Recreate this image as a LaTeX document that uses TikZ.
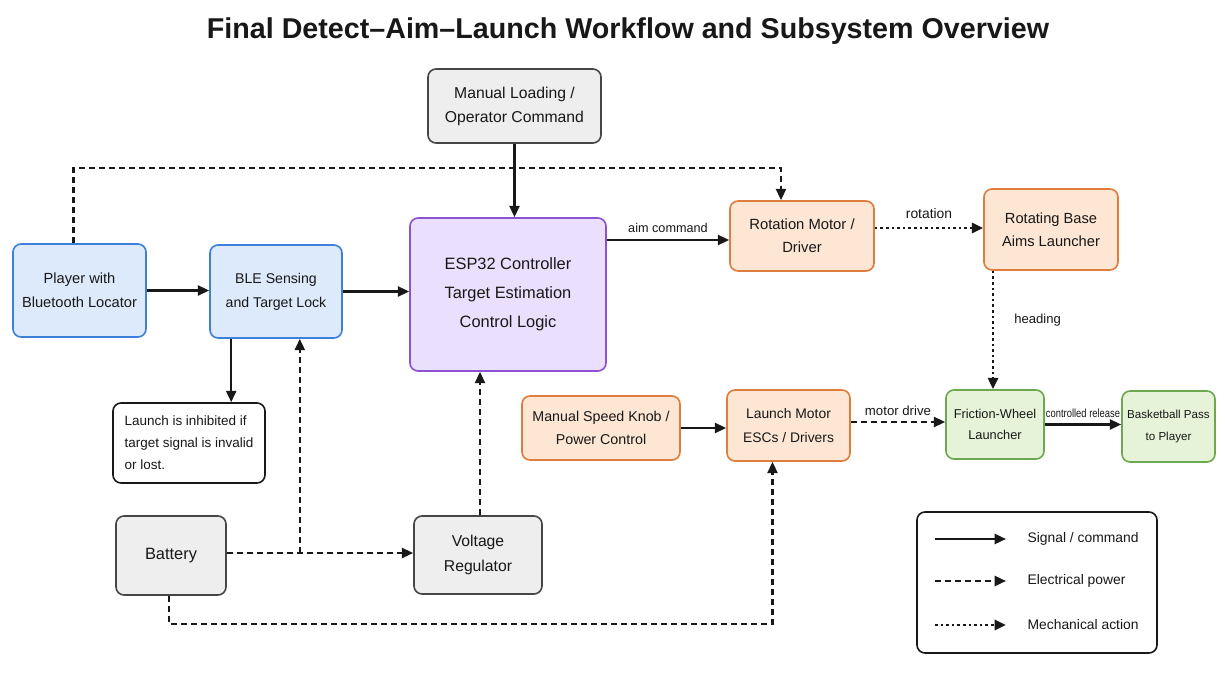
\documentclass[tikz,border=0pt]{standalone}
\usepackage{fontspec}
\usepackage{graphicx}
\setmainfont{Liberation Sans}
\usetikzlibrary{arrows.meta,calc}
\definecolor{txt}{RGB}{24,24,24}
\definecolor{bluef}{RGB}{221,234,251}
\definecolor{blued}{RGB}{60,128,218}
\definecolor{purf}{RGB}{234,223,252}
\definecolor{purd}{RGB}{140,82,210}
\definecolor{orf}{RGB}{253,230,212}
\definecolor{ord}{RGB}{224,124,60}
\definecolor{grf}{RGB}{230,243,216}
\definecolor{grd}{RGB}{108,168,80}
\definecolor{gyf}{RGB}{238,238,238}
\definecolor{gyd}{RGB}{70,70,70}
\begin{document}
\begin{tikzpicture}[x=0.75pt,y=-0.75pt,
  fs/.style 2 args={font=\fontsize{#1}{#2}\selectfont},
  wh/.style 2 args={minimum width=#1*0.75pt, minimum height=#2*0.75pt},
  box/.style={draw, rounded corners=6pt, line width=1.2pt, align=center, inner sep=0pt, text=txt},
  bluebox/.style={box, fill=bluef, draw=blued},
  purbox/.style={box, fill=purf, draw=purd},
  orbox/.style={box, fill=orf, draw=ord},
  grbox/.style={box, fill=grf, draw=grd},
  gybox/.style={box, fill=gyf, draw=gyd},
  notebox/.style={box, fill=white, draw=txt, align=left},
  lbl/.style={text=txt, inner sep=1pt},
  sig/.style={line width=1.7pt, draw=txt, -{Triangle[length=8.5pt,width=7.5pt]}},
  pow/.style={sig, dash pattern=on 4.5pt off 3pt},
  mech/.style={sig, line width=2pt, dash pattern=on 1.9pt off 2.3pt}]
\useasboundingbox[fill=white] (0,0) rectangle (1225,677);

\node[text=txt, font={\fontsize{21.5}{26}\selectfont\bfseries}] (title) at (628,31) {Final Detect–Aim–Launch Workflow and Subsystem Overview};

% nodes
\node[gybox, wh={173}{74}, fs={11.8}{18}] (load) at (514.5,106) {Manual Loading /\\Operator Command};
\node[bluebox, wh={133}{93}, fs={11}{18}] (player) at (79.5,290.5) {Player with\\Bluetooth Locator};
\node[bluebox, wh={132}{93}, fs={10.6}{18}] (ble) at (276,291.5) {BLE Sensing\\and Target Lock};
\node[purbox, wh={196}{153}, fs={12.3}{21.75}] (esp) at (508,294.5) {ESP32 Controller\\Target Estimation\\Control Logic};
\node[orbox, wh={144}{70}, fs={11.1}{17.25}] (rot) at (802,236) {Rotation Motor /\\Driver};
\node[orbox, wh={134}{81}, fs={11}{17.25}] (base) at (1051,229.5) {Rotating Base\\Aims Launcher};
\node[notebox, wh={152}{80}, fs={10.1}{16.5}] (note) at (189,443) {Launch is inhibited if\\target signal is invalid\\or lost.};
\node[orbox, wh={158}{64}, fs={10.7}{17.25}] (knob) at (601,428) {Manual Speed Knob /\\Power Control};
\node[orbox, wh={123}{71}, fs={10.4}{18}] (lmot) at (788.5,425.5) {Launch Motor\\ESCs / Drivers};
\node[grbox, wh={98}{69}, fs={9.6}{16}] (fric) at (995,424.5) {Friction-Wheel\\Launcher};
\node[grbox, wh={93}{71}, fs={8.7}{16}] (ball) at (1168.5,426.5) {Basketball Pass\\to Player};
\node[gybox, wh={110}{79}, fs={12.3}{18}] (batt) at (171,555.5) {Battery};
\node[gybox, wh={128}{78}, fs={11.8}{18.75}] (vreg) at (478,555) {Voltage\\Regulator};

% signal connectors
\draw[sig] (load.south) -- (load.south |- esp.north);
\draw[sig] (player.east) -- (player.east -| ble.west);
\draw[sig] (ble.east) -- (ble.east -| esp.west);
\coordinate (nt) at ($(ble.south west)+(22,0)$);
\draw[sig] (nt) -- (nt |- note.north);
\coordinate (ac) at ($(rot.west)+(0,4)$);
\draw[sig] (ac -| esp.east) -- node[lbl, above=4pt, fs={9.5}{11}] (aimlbl) {aim command} (ac);
\draw[sig] (knob.east) -- (knob.east -| lmot.west);
\draw[sig] (fric.east) -- node[lbl, above=3pt, fs={8.8}{10}] (rellbl) {\scalebox{0.8}[1]{controlled release}} (fric.east -| ball.west);

% mechanical connectors
\coordinate (rc) at ($(base.west)+(0,-1.5)$);
\draw[mech] (rc -| rot.east) -- node[lbl, above=5pt, fs={10.4}{12}] (rotlbl) {rotation} (rc);
\coordinate (hc) at ($(fric.north)+(-2,0)$);
\draw[mech] (hc |- base.south) -- node[lbl, right=14pt, pos=0.42, fs={9.8}{12}] (headlbl) {heading} (hc);

% power connectors
\draw[pow] ($(player.north)+(-6,0)$) -- ++(0,-75) -| ($(rot.north)+(-21,0)$);
\coordinate (mc) at ($(fric.west)+(0,-2.5)$);
\draw[pow] (mc -| lmot.east) -- node[lbl, above=3pt, fs={9.9}{12}] (mdlbl) {motor drive} (mc);
\coordinate (bc) at ($(batt.east)+(0,-2.5)$);
\draw[pow] (bc) -- (bc -| vreg.west);
\coordinate (bj) at ($(ble.south east)+(-43,0)$);
\draw[pow] (bj |- bc) -- (bj);
\coordinate (vr) at ($(vreg.north)+(2,0)$);
\draw[pow] (vr) -- (vr |- esp.south);
\draw[pow] ($(batt.south)+(-2,0)$) -- ++(0,28) -| ($(lmot.south)+(-16,0)$);

% legend
\node[draw=txt, line width=1.2pt, rounded corners=6pt, wh={240}{141}, fill=white] (legend) at (1037,582.5) {};
\coordinate (la) at (935,539);
\coordinate (lb) at (935,581);
\coordinate (lc) at (935,625);
\draw[sig] (la) -- ++(71,0);
\draw[pow] (lb) -- ++(71,0);
\draw[mech] (lc) -- ++(71,0);
\node[lbl, anchor=west, fs={10.4}{12}] (lta) at (1026,539) {Signal / command};
\node[lbl, anchor=west, fs={10.4}{12}] (ltb) at (1026,581) {Electrical power};
\node[lbl, anchor=west, fs={10.4}{12}] (ltc) at (1026,625) {Mechanical action};
\end{tikzpicture}
\end{document}
